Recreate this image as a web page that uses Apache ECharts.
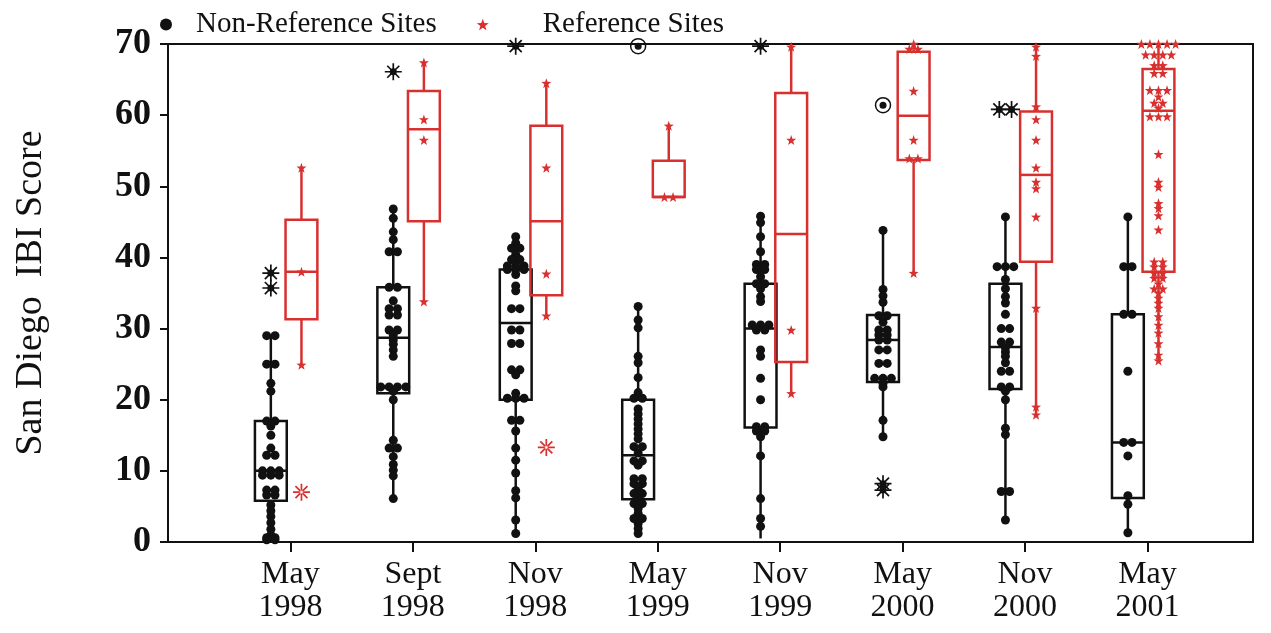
<!DOCTYPE html>
<html>
<head>
<meta charset="utf-8">
<script src="https://cdn.jsdelivr.net/npm/echarts@6/dist/echarts.min.js"></script>
<style>
  html, body { margin: 0; padding: 0; background: #fff; }
  #chart { width: 1271px; height: 633px; }
</style>
</head>
<body>
<div id="chart"></div>
<script>
// Sampling periods (x axis categories)
const periods = ['May\n1998', 'Sept\n1998', 'Nov\n1998', 'May\n1999', 'Nov\n1999', 'May\n2000', 'Nov\n2000', 'May\n2001'];
const yTicks = [0, 10, 20, 30, 40, 50, 60, 70];

// Box statistics per period: [lower whisker, Q1, median, Q3, upper whisker]
const nonRefBoxes = [
  [0.2, 5.8, 10.0, 17.0, 29.0],
  [6.1, 20.9, 28.7, 35.8, 46.8],
  [1.2, 20.0, 30.8, 38.3, 42.9],
  [1.2, 6.0, 12.2, 20.0, 33.1],
  [0.5, 16.1, 30.0, 36.3, 45.8],
  [14.8, 22.5, 28.4, 31.9, 43.8],
  [3.1, 21.5, 27.4, 36.3, 45.7],
  [1.3, 6.2, 14.0, 32.0, 45.7]
];
const refBoxes = [
  [24.9, 31.3, 38.0, 45.3, 52.6],
  [33.8, 45.1, 58.0, 63.4, 67.4],
  [31.8, 34.7, 45.1, 58.5, 64.5],
  [48.5, 48.5, 48.5, 53.6, 58.5],
  [20.9, 25.3, 43.3, 63.1, 70.0],
  [37.8, 53.7, 59.9, 68.9, 70.0],
  [17.9, 39.4, 51.6, 60.5, 70.0],
  [25.5, 38.0, 60.6, 66.5, 70.0]
];

// Individual site scores, Non-Reference sites
const nonRefScores = [
  [29, 29, 25, 25, 22.3, 21.2, 17, 17, 16.3, 15, 13.2, 12.2, 12.2, 10, 10, 10, 9.4, 9.4, 9.4, 7.3, 7.3, 6.6, 6.6, 5.2, 4.4, 3.6, 2.7, 1.8, 1, 0.6, 0.6, 0.3, 0.3],
  [46.8, 45.5, 43.6, 42.5, 40.8, 40.8, 35.8, 35.8, 33.9, 32.8, 32.8, 31.9, 31.9, 29.8, 29.8, 29.1, 28.4, 27.8, 27, 26.1, 21.8, 21.8, 21.8, 21.8, 21.2, 20, 14.3, 13.2, 13.2, 12, 10.9, 10.1, 9.3, 6.1],
  [42.9, 42, 41.3, 41.3, 40.4, 39.7, 39.7, 38.8, 38.8, 38.8, 38.3, 38.3, 38.3, 37.6, 36, 35.3, 32.8, 32.8, 29.8, 29.8, 27.9, 27.9, 24.2, 24.2, 23.5, 20.9, 20.2, 20.2, 20.2, 17.1, 17.1, 15.6, 13.2, 11.5, 9.7, 7.2, 6.2, 3.1, 1.2],
  [33.1, 31.2, 30.1, 26.1, 25.2, 23.1, 21, 20.2, 20.2, 18.7, 18, 17.3, 16.6, 15.9, 15.2, 14.5, 13.4, 13.4, 12.5, 11.4, 11.4, 10.8, 8.9, 8.9, 8.2, 8.2, 7.5, 6.8, 6.8, 6.1, 5.4, 5.4, 4.7, 4, 3.3, 3.3, 2.6, 1.9, 1.2],
  [45.8, 44.9, 42.9, 40.8, 39, 39, 38.3, 38.3, 37.3, 36.3, 36.3, 35.6, 34.5, 33.8, 30.5, 30.5, 30.5, 29.8, 29.8, 27, 26.1, 23, 20, 16.2, 16.2, 15.6, 15.6, 14.8, 12.1, 6.1, 3.3, 2.2],
  [43.8, 35.5, 34.6, 33.7, 31.8, 31.8, 30.9, 29.8, 29.8, 29.1, 29.1, 28.4, 28.4, 27, 27, 25.1, 25.1, 23, 23, 23, 22.3, 21.8, 17.1, 14.8],
  [45.7, 38.7, 38.7, 38.7, 36.9, 35.6, 34.5, 33.6, 32, 30, 30, 28.1, 28.1, 27.3, 26.7, 26.1, 25.2, 24, 24, 21.8, 21.8, 21.2, 20, 16, 15.1, 7.1, 7.1, 3.1],
  [45.7, 38.7, 38.7, 32, 32, 24, 14, 14, 12.1, 6.5, 5.3, 1.3]
];

// Individual site scores, Reference sites
const refScores = [
  [52.6, 38, 24.9],
  [67.4, 59.4, 56.5, 33.8],
  [64.5, 52.6, 37.7, 31.8],
  [58.5, 48.5, 48.5],
  [69.6, 56.5, 29.8, 20.9],
  [70, 69.3, 69.3, 63.4, 56.5, 53.9, 53.9, 37.8],
  [69.6, 68.3, 61.2, 59.4, 56.5, 52.6, 50.6, 49.7, 45.7, 32.9, 19, 17.9],
  [70, 70, 70, 70, 70, 68.5, 68.5, 68.5, 68.5, 67, 67, 65.9, 65.9, 63.5, 63.5, 63.5, 62.6, 61.7, 61.7, 61,
   59.8, 59.8, 59.8, 54.5, 50.6, 49.9, 47.6, 46.9, 45.9, 43.9, 39.4, 39.4, 38.7, 38.7, 37.8, 37.8, 37.1, 37.1,
   36.3, 35.6, 35.6, 35, 34.3, 33.6, 32.9, 31.7, 30.5, 29.4, 27.9, 26.3, 25.5]
];

// Outliers: [period index (1-based), score]
const nonRefAsterisks = [[1, 37.8], [1, 35.7], [2, 66.1], [3, 69.7], [5, 69.7], [6, 8.2], [6, 7.3], [7, 60.8], [7, 60.8]];
const nonRefCircled = [[4, 69.7], [6, 61.4]];
const refAsterisks = [[1, 7.0], [3, 13.3]];

// Layout constants (x axis units: one period = 1)
const NONREF_SHIFT = -0.16;
const REF_SHIFT = 0.09;
const BOX_HALF = 0.13;
const DOT_STEP = 0.068;
const STAR_STEP = 0.07;
const BLACK = '#111111';
const RED = '#d8302f';
const FONT = '"Liberation Serif", "Times New Roman", serif';

const STAR = 'path://M0,-10 L2.35,-3.24 L9.51,-3.09 L3.8,1.24 L5.88,8.09 L0,4 L-5.88,8.09 L-3.8,1.24 L-9.51,-3.09 L-2.35,-3.24 Z';
const ASTERISK = 'path://M-10,-1 L10,-1 L10,1 L-10,1 Z M-1,-10 L1,-10 L1,10 L-1,10 Z ' +
  'M-7.78,-6.36 L6.36,7.78 L7.78,6.36 L-6.36,-7.78 Z M-6.36,7.78 L7.78,-6.36 L6.36,-7.78 L-7.78,6.36 Z';

// Spread equal scores side by side around the group centre
function spread(values, centre, step) {
  const counts = {};
  values.forEach(v => { counts[v] = (counts[v] || 0) + 1; });
  const seen = {};
  return values.map(v => {
    const i = seen[v] || 0;
    seen[v] = i + 1;
    return [centre + (i - (counts[v] - 1) / 2) * step, v];
  });
}

function boxData(boxes, shift) {
  return boxes.map((b, i) => [i + 1 + shift].concat(b));
}

function pointData(groups, shift, step) {
  return groups.reduce((acc, vals, i) => acc.concat(spread(vals, i + 1 + shift, step)), []);
}

function outlierData(list, shift, step) {
  const byGroup = {};
  list.forEach(([g, v]) => { (byGroup[g] = byGroup[g] || []).push(v); });
  return Object.keys(byGroup).reduce((acc, g) => acc.concat(spread(byGroup[g], +g + shift, step)), []);
}

function boxRenderer(color) {
  return function (params, api) {
    const x = api.value(0);
    const lo = api.value(1), q1 = api.value(2), md = api.value(3), q3 = api.value(4), hi = api.value(5);
    const pTop = api.coord([x - BOX_HALF, q3]);
    const pBot = api.coord([x + BOX_HALF, q1]);
    const xc = api.coord([x, md])[0];
    const yMd = api.coord([x, md])[1];
    const yLo = api.coord([x, lo])[1];
    const yHi = api.coord([x, hi])[1];
    const st = { stroke: color, lineWidth: 2.5, fill: null };
    return {
      type: 'group',
      children: [
        { type: 'line', shape: { x1: xc, y1: yHi, x2: xc, y2: pTop[1] }, style: st },
        { type: 'line', shape: { x1: xc, y1: pBot[1], x2: xc, y2: yLo }, style: st },
        { type: 'rect', shape: { x: pTop[0], y: pTop[1], width: pBot[0] - pTop[0], height: pBot[1] - pTop[1] }, style: st },
        { type: 'line', shape: { x1: pTop[0], y1: yMd, x2: pBot[0], y2: yMd }, style: st }
      ]
    };
  };
}

const chart = echarts.init(document.getElementById('chart'), null, { renderer: 'canvas' });

chart.setOption({
  animation: false,
  backgroundColor: '#ffffff',
  legend: {
    left: 155,
    top: 5,
    itemWidth: 12,
    itemHeight: 12,
    itemGap: 40,
    selectedMode: false,
    textStyle: { fontFamily: FONT, fontSize: 29, color: BLACK },
    data: [
      { name: 'Non-Reference Sites', icon: 'circle', itemStyle: { color: BLACK },
        textStyle: { padding: [0, 0, 0, 19] } },
      { name: 'Reference Sites', icon: STAR, itemStyle: { color: RED },
        textStyle: { padding: [0, 0, 0, 49] } }
    ]
  },
  grid: {
    left: 168, right: 18, top: 44, bottom: 91,
    show: true, borderColor: BLACK, borderWidth: 2, backgroundColor: 'transparent'
  },
  xAxis: {
    type: 'value',
    min: 0,
    max: 8.862,
    splitLine: { show: false },
    axisLine: { show: true, lineStyle: { color: BLACK, width: 2 } },
    axisTick: { show: true, length: 10, lineStyle: { color: BLACK, width: 2 }, customValues: [1, 2, 3, 4, 5, 6, 7, 8] },
    axisLabel: {
      customValues: [1, 2, 3, 4, 5, 6, 7, 8],
      formatter: v => periods[Math.round(v) - 1],
      fontFamily: FONT, fontSize: 32, lineHeight: 33, color: BLACK, margin: 16
    }
  },
  yAxis: {
    type: 'value',
    min: 0,
    max: 70,
    interval: 10,
    name: 'San Diego  IBI Score',
    nameLocation: 'middle',
    nameRotate: 90,
    nameGap: 118,
    nameTextStyle: { fontFamily: FONT, fontSize: 38, color: BLACK },
    splitLine: { show: false },
    axisLine: { show: true, lineStyle: { color: BLACK, width: 2 } },
    axisTick: { show: true, length: 8, lineStyle: { color: BLACK, width: 2 } },
    axisLabel: {
      customValues: yTicks,
      fontFamily: FONT, fontSize: 36, fontWeight: 'bold', color: BLACK, margin: 17
    }
  },
  series: [
    {
      name: 'Non-Reference boxes', type: 'custom', renderItem: boxRenderer(BLACK),
      encode: { x: 0, y: [1, 2, 3, 4, 5] }, data: boxData(nonRefBoxes, NONREF_SHIFT), z: 2
    },
    {
      name: 'Reference boxes', type: 'custom', renderItem: boxRenderer(RED),
      encode: { x: 0, y: [1, 2, 3, 4, 5] }, data: boxData(refBoxes, REF_SHIFT), z: 2
    },
    {
      name: 'Non-Reference Sites', type: 'scatter', symbol: 'circle', symbolSize: 9,
      itemStyle: { color: BLACK, opacity: 1 }, data: pointData(nonRefScores, NONREF_SHIFT, DOT_STEP), z: 4
    },
    {
      name: 'Reference Sites', type: 'scatter', symbol: STAR, symbolSize: 10,
      itemStyle: { color: RED, opacity: 1 }, data: pointData(refScores, REF_SHIFT, STAR_STEP), z: 4
    },
    {
      name: 'Non-Reference outliers', type: 'scatter', symbol: ASTERISK, symbolSize: 17,
      itemStyle: { color: BLACK, opacity: 1 }, data: outlierData(nonRefAsterisks, NONREF_SHIFT, 0.1), z: 4
    },
    {
      name: 'Non-Reference outlier centres', type: 'scatter', symbol: 'circle', symbolSize: 7,
      itemStyle: { color: BLACK, opacity: 1 },
      data: outlierData(nonRefAsterisks.concat(nonRefCircled), NONREF_SHIFT, 0.1), z: 5
    },
    {
      name: 'Non-Reference far outliers', type: 'scatter', symbol: 'circle', symbolSize: 15,
      itemStyle: { color: 'rgba(255,255,255,0)', borderColor: BLACK, borderWidth: 1.5, opacity: 1 },
      data: outlierData(nonRefCircled, NONREF_SHIFT, 0.1), z: 4
    },
    {
      name: 'Reference outliers', type: 'scatter', symbol: ASTERISK, symbolSize: 17,
      itemStyle: { color: RED, opacity: 1 }, data: outlierData(refAsterisks, REF_SHIFT, 0.1), z: 4
    }
  ]
});
</script>
</body>
</html>
